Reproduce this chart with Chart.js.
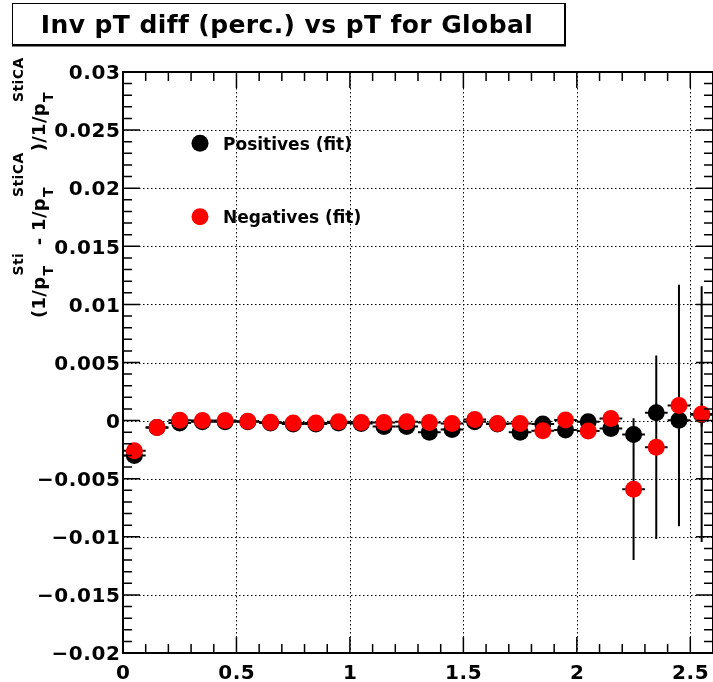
<!DOCTYPE html>
<html>
<head>
<meta charset="utf-8">
<script src="https://cdn.jsdelivr.net/npm/chart.js@4/dist/chart.umd.min.js"></script>
<style>
  html, body { margin: 0; padding: 0; background: #ffffff; }
  #c { display: block; }
</style>
</head>
<body>
<canvas id="c" width="713" height="682"></canvas>
<script>
// ---- data ----
const binCenters = [0.05, 0.15, 0.25, 0.35, 0.45, 0.55, 0.65, 0.75, 0.85, 0.95,
                    1.05, 1.15, 1.25, 1.35, 1.45, 1.55, 1.65, 1.75, 1.85, 1.95,
                    2.05, 2.15, 2.25, 2.35, 2.45, 2.55];
const binHalfWidth = 0.05;

const positivesValues = [-0.0030, -0.0006, -0.0002, -0.0001, -0.0001, -0.0001, -0.0002, -0.0003, -0.0003, -0.0002,
                         -0.00025, -0.0005, -0.0005, -0.0010, -0.00076, -0.0001, -0.0003, -0.0010, -0.0003, -0.0008,
                         -0.0001, -0.00067, -0.0012, 0.00067, 0.00004, 0.0005];
const positivesErrors = [0.0002, 0.0001, 0.0001, 0.0001, 0.0001, 0.0001, 0.0001, 0.0001, 0.0001, 0.0001,
                         0.0001, 0.0001, 0.0001, 0.0002, 0.0002, 0.0002, 0.0002, 0.0002, 0.0002, 0.0003,
                         0.0003, 0.0004, 0.0006, 0.0008, 0.0010, 0.0010];

const negativesValues = [-0.0026, -0.0006, 0.00004, 0.0, 0.0, -0.00005, -0.00015, -0.0002, -0.0002, -0.0001,
                         -0.00016, -0.00016, -0.0001, -0.00016, -0.00025, 0.0001, -0.00025, -0.00025, -0.00088, 0.00005,
                         -0.0009, 0.00019, -0.0059, -0.0023, 0.0013, 0.00056];
const negativesErrors = [0.0002, 0.0001, 0.0001, 0.0001, 0.0001, 0.0001, 0.0001, 0.0001, 0.0001, 0.0001,
                         0.0001, 0.0001, 0.0001, 0.0002, 0.0002, 0.0002, 0.0002, 0.0002, 0.0002, 0.0003,
                         0.0003, 0.0004, 0.0061, 0.0079, 0.0104, 0.0110];

const xTickValues = [0, 0.5, 1, 1.5, 2, 2.5];
const xTickLabels = ['0', '0.5', '1', '1.5', '2', '2.5'];
const yTickValues = [-0.02, -0.015, -0.01, -0.005, 0, 0.005, 0.01, 0.015, 0.02, 0.025, 0.03];
const yTickLabels = ['\u22120.02', '\u22120.015', '\u22120.01', '\u22120.005', '0', '0.005', '0.01', '0.015', '0.02', '0.025', '0.03'];

const chartTitle = 'Inv pT diff (perc.) vs pT for Global';
const seriesNames = ['Positives (fit)', 'Negatives (fit)'];
const seriesColors = ['#000000', '#ff0000'];

const FONT = '"DejaVu Sans", sans-serif';

function points(vals) { return binCenters.map((x, i) => ({ x: x, y: vals[i] })); }
function setSpacing(ctx, s) { if ('letterSpacing' in ctx) ctx.letterSpacing = s + 'px'; }

const rootPlugin = {
  id: 'rootStyle',
  beforeDraw(chart) {
    const ctx = chart.ctx;
    ctx.save();
    ctx.fillStyle = '#ffffff';
    ctx.fillRect(0, 0, chart.width, chart.height);
    ctx.restore();
  },
  beforeDatasetsDraw(chart) {
    const ctx = chart.ctx, a = chart.chartArea;
    const xs = chart.scales.x, ys = chart.scales.y;
    ctx.save();
    // dotted grid at major ticks
    ctx.strokeStyle = '#000';
    ctx.lineWidth = 1;
    ctx.setLineDash([1.5, 2.5]);
    xTickValues.forEach(v => {
      const px = Math.round(xs.getPixelForValue(v)) + 0.5;
      if (px - a.left < 2 || a.right - px < 2) return;
      ctx.beginPath(); ctx.moveTo(px, a.top); ctx.lineTo(px, a.bottom); ctx.stroke();
    });
    yTickValues.forEach(v => {
      const py = Math.round(ys.getPixelForValue(v)) + 0.5;
      if (py - a.top < 2 || a.bottom - py < 2) return;
      ctx.beginPath(); ctx.moveTo(a.left, py); ctx.lineTo(a.right, py); ctx.stroke();
    });
    ctx.setLineDash([]);
    // error bars (black lines)
    ctx.beginPath();
    ctx.rect(a.left, a.top, a.right - a.left, a.bottom - a.top);
    ctx.clip();
    ctx.lineWidth = 2;
    const series = [[positivesValues, positivesErrors], [negativesValues, negativesErrors]];
    series.forEach(([vals, errs]) => {
      binCenters.forEach((x, i) => {
        const px = xs.getPixelForValue(x);
        const py = ys.getPixelForValue(vals[i]);
        ctx.beginPath();
        ctx.moveTo(xs.getPixelForValue(x - binHalfWidth), py);
        ctx.lineTo(xs.getPixelForValue(x + binHalfWidth), py);
        ctx.moveTo(px, ys.getPixelForValue(vals[i] + errs[i]));
        ctx.lineTo(px, ys.getPixelForValue(vals[i] - errs[i]));
        ctx.stroke();
      });
    });
    ctx.restore();
  },
  afterDatasetsDraw(chart) {
    const ctx = chart.ctx, a = chart.chartArea;
    const xs = chart.scales.x, ys = chart.scales.y;
    ctx.save();
    ctx.strokeStyle = '#000';
    ctx.lineWidth = 2;
    ctx.strokeRect(a.left, a.top, a.right - a.left, a.bottom - a.top);
    ctx.lineWidth = 1.5;
    // x ticks (minor every 0.1, major every 0.5), inward on bottom and top
    for (let k = 0; k <= 26; k++) {
      const px = xs.getPixelForValue(k / 10);
      const len = (k % 5 === 0) ? 16 : 9;
      ctx.beginPath();
      ctx.moveTo(px, a.bottom); ctx.lineTo(px, a.bottom - len);
      ctx.moveTo(px, a.top); ctx.lineTo(px, a.top + len);
      ctx.stroke();
    }
    // y ticks (minor every 0.001, major every 0.005), inward on left and right
    for (let k = -20; k <= 30; k++) {
      const py = ys.getPixelForValue(k / 1000);
      const len = (k % 5 === 0) ? 17 : 9;
      ctx.beginPath();
      ctx.moveTo(a.left, py); ctx.lineTo(a.left + len, py);
      ctx.moveTo(a.right, py); ctx.lineTo(a.right - len, py);
      ctx.stroke();
    }
    // tick labels
    ctx.fillStyle = '#000';
    ctx.font = 'bold 20px ' + FONT;
    ctx.textBaseline = 'alphabetic';
    setSpacing(ctx, 0.6);
    ctx.textAlign = 'right';
    yTickValues.forEach((v, i) => {
      ctx.fillText(yTickLabels[i], a.left - 2.4, ys.getPixelForValue(v) + 7.2);
    });
    ctx.textAlign = 'center';
    xTickValues.forEach((v, i) => {
      ctx.fillText(xTickLabels[i], xs.getPixelForValue(v) + 0.3, 679);
    });
    setSpacing(ctx, 0);
    ctx.restore();
  },
  afterDraw(chart) {
    const ctx = chart.ctx;
    ctx.save();
    // title box
    ctx.fillStyle = '#ffffff';
    ctx.fillRect(12.5, 3.5, 552, 41);
    ctx.strokeStyle = '#000';
    ctx.lineWidth = 1;
    ctx.strokeRect(12.5, 3.5, 552, 41);
    ctx.lineWidth = 2;
    ctx.beginPath();
    ctx.moveTo(565, 3); ctx.lineTo(565, 45.5); ctx.lineTo(12, 45.5);
    ctx.stroke();
    ctx.fillStyle = '#000';
    ctx.font = 'bold 25px ' + FONT;
    ctx.textAlign = 'center';
    ctx.textBaseline = 'alphabetic';
    setSpacing(ctx, 0.4);
    ctx.fillText(chartTitle, 287, 33);
    setSpacing(ctx, 0);

    // legend
    const legendY = [143.3, 216.7];
    ctx.font = 'bold 17px ' + FONT;
    ctx.textAlign = 'left';
    seriesNames.forEach((name, i) => {
      ctx.fillStyle = seriesColors[i];
      ctx.beginPath();
      ctx.arc(200, legendY[i], 8.5, 0, Math.PI * 2);
      ctx.fill();
      ctx.fillStyle = '#000';
      ctx.fillText(name, 223, legendY[i] + 6.3);
    });

    // rotated y-axis title with sub/superscripts
    ctx.translate(45, 318);
    ctx.rotate(-Math.PI / 2);
    const mainFont = 'bold 18px ' + FONT;
    const scriptFont = 'bold 14px ' + FONT;
    const parts = [
      ['(1/p', 'Sti', 'T'],
      [' - 1/p', 'StiCA', 'T'],
      [')/1/p', 'StiCA', 'T']
    ];
    let x = 0;
    parts.forEach(([m, sup, sub]) => {
      ctx.font = mainFont;
      setSpacing(ctx, 0.3);
      ctx.fillText(m, x, 0);
      x += ctx.measureText(m).width + 1;
      ctx.font = scriptFont;
      setSpacing(ctx, 0.4);
      ctx.fillText(sup, x, -22);
      ctx.fillText(sub, x, 8);
      x += Math.max(ctx.measureText(sup).width, ctx.measureText(sub).width) + 1;
    });
    setSpacing(ctx, 0);
    ctx.restore();
  }
};

new Chart(document.getElementById('c'), {
  type: 'scatter',
  data: {
    datasets: [
      {
        label: seriesNames[1],
        data: points(negativesValues),
        backgroundColor: seriesColors[1],
        borderColor: seriesColors[1],
        borderWidth: 0,
        pointRadius: 8.5,
        pointHoverRadius: 8.5,
        order: 0
      },
      {
        label: seriesNames[0],
        data: points(positivesValues),
        backgroundColor: seriesColors[0],
        borderColor: seriesColors[0],
        borderWidth: 0,
        pointRadius: 8.5,
        pointHoverRadius: 8.5,
        order: 1
      }
    ]
  },
  options: {
    responsive: false,
    animation: false,
    devicePixelRatio: 1,
    layout: { autoPadding: false, padding: { left: 0, right: 0, top: 72, bottom: 0 } },
    plugins: { legend: { display: false }, tooltip: { enabled: false }, title: { display: false } },
    scales: {
      x: {
        type: 'linear',
        min: 0,
        max: 2.6,
        grid: { display: false, drawTicks: false },
        border: { display: false },
        afterBuildTicks: s => { s.ticks = xTickValues.map(v => ({ value: v })); },
        afterFit: s => { s.height = 29; s.paddingLeft = 0; s.paddingRight = 0; },
        ticks: { display: false }
      },
      y: {
        type: 'linear',
        min: -0.02,
        max: 0.03,
        grid: { display: false, drawTicks: false },
        border: { display: false },
        afterBuildTicks: s => { s.ticks = yTickValues.map(v => ({ value: v })); },
        afterFit: s => { s.width = 123; s.paddingTop = 0; s.paddingBottom = 0; },
        ticks: { display: false }
      }
    }
  },
  plugins: [rootPlugin]
});
</script>
</body>
</html>
